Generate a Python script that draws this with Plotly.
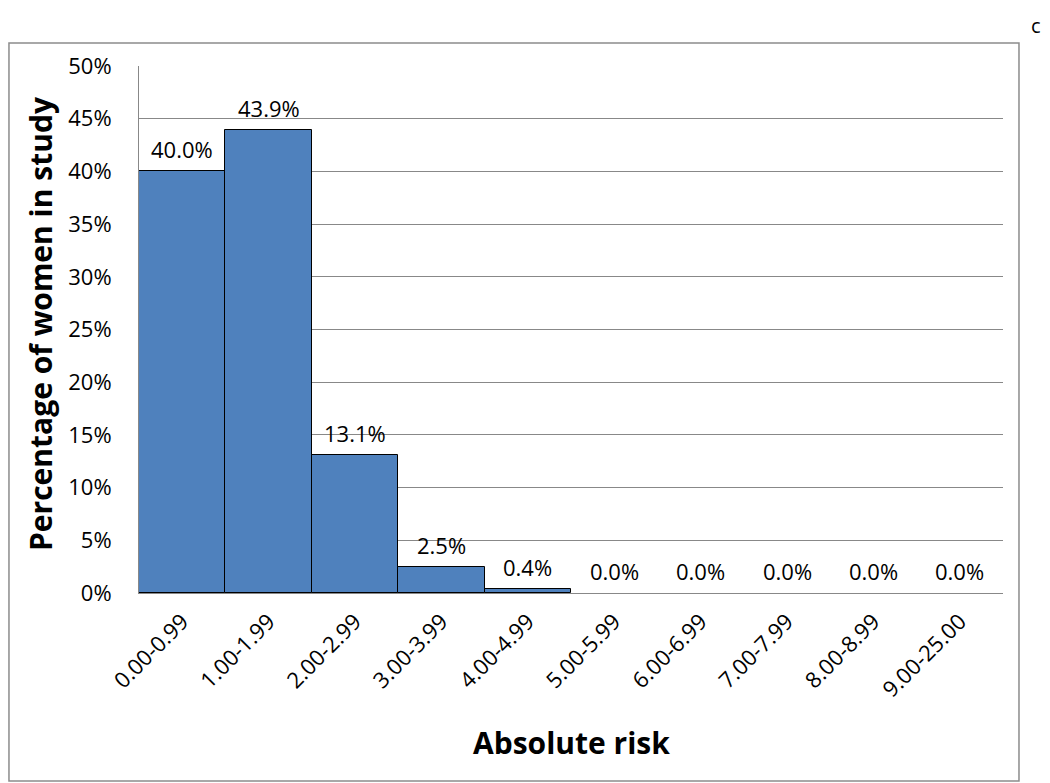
import plotly.graph_objects as go

# risk bands and share of women
bands = ['0.00-0.99', '1.00-1.99', '2.00-2.99', '3.00-3.99', '4.00-4.99',
         '5.00-5.99', '6.00-6.99', '7.00-7.99', '8.00-8.99', '9.00-25.00']
pct = [40.0, 43.9, 13.1, 2.5, 0.4, 0.0, 0.0, 0.0, 0.0, 0.0]
labels = [f'{v:.1f}%' for v in pct]

font = 'Open Sans, sans-serif'

# no outline on empty bars so the gray axis line shows
outline = [1 if v > 0 else 0 for v in pct]

fig = go.Figure(go.Bar(
    x=bands, y=pct,
    marker=dict(color='#4F81BD', line=dict(color='black', width=outline)),
))

# value labels above bars
for b, v, t in zip(bands, pct, labels):
    fig.add_annotation(x=b, y=v, text=t, showarrow=False, yanchor='bottom',
                       yshift=5, font=dict(size=22, color='black'))

# page has an 8px body margin, so the figure is a bit smaller
fig.update_layout(
    width=1042, height=775,
    margin=dict(l=131, r=47, t=58, b=190),
    plot_bgcolor='white', paper_bgcolor='white',
    bargap=0, showlegend=False,
    font=dict(family=font, color='black'),
)
fig.update_yaxes(range=[0, 50], dtick=5, ticksuffix='%',
                 showgrid=True, gridcolor='#888888', gridwidth=1,
                 showline=True, linecolor='#888888', ticks='',
                 tickfont=dict(size=22), zeroline=False,
                 ticklabelstandoff=22)
fig.update_xaxes(showline=True, linecolor='#888888', tickangle=-45,
                 tickfont=dict(size=22), ticks='', ticklabelstandoff=6)

fig.add_annotation(text='<b>Absolute risk</b>', xref='paper', yref='paper',
                   x=0.501, y=-0.2846, xanchor='center', yanchor='middle',
                   showarrow=False, font=dict(size=30))
fig.add_annotation(text='<b>Percentage of women in study</b>', xref='paper',
                   yref='paper', x=-0.1146, y=0.5123, textangle=-90,
                   xanchor='center', yanchor='middle',
                   showarrow=False, font=dict(size=30))

# outer chart frame and panel letter
fig.add_shape(type='rect', xref='paper', yref='paper',
              x0=-0.1505, x1=1.0185, y0=-0.3567, y1=1.0436,
              line=dict(color='#8c8c8c', width=1.5))
fig.add_annotation(text='c', xref='paper', yref='paper', x=1.038, y=1.106,
                   xanchor='center', yanchor='top',
                   showarrow=False, font=dict(size=20))

fig.write_html('out.html')
